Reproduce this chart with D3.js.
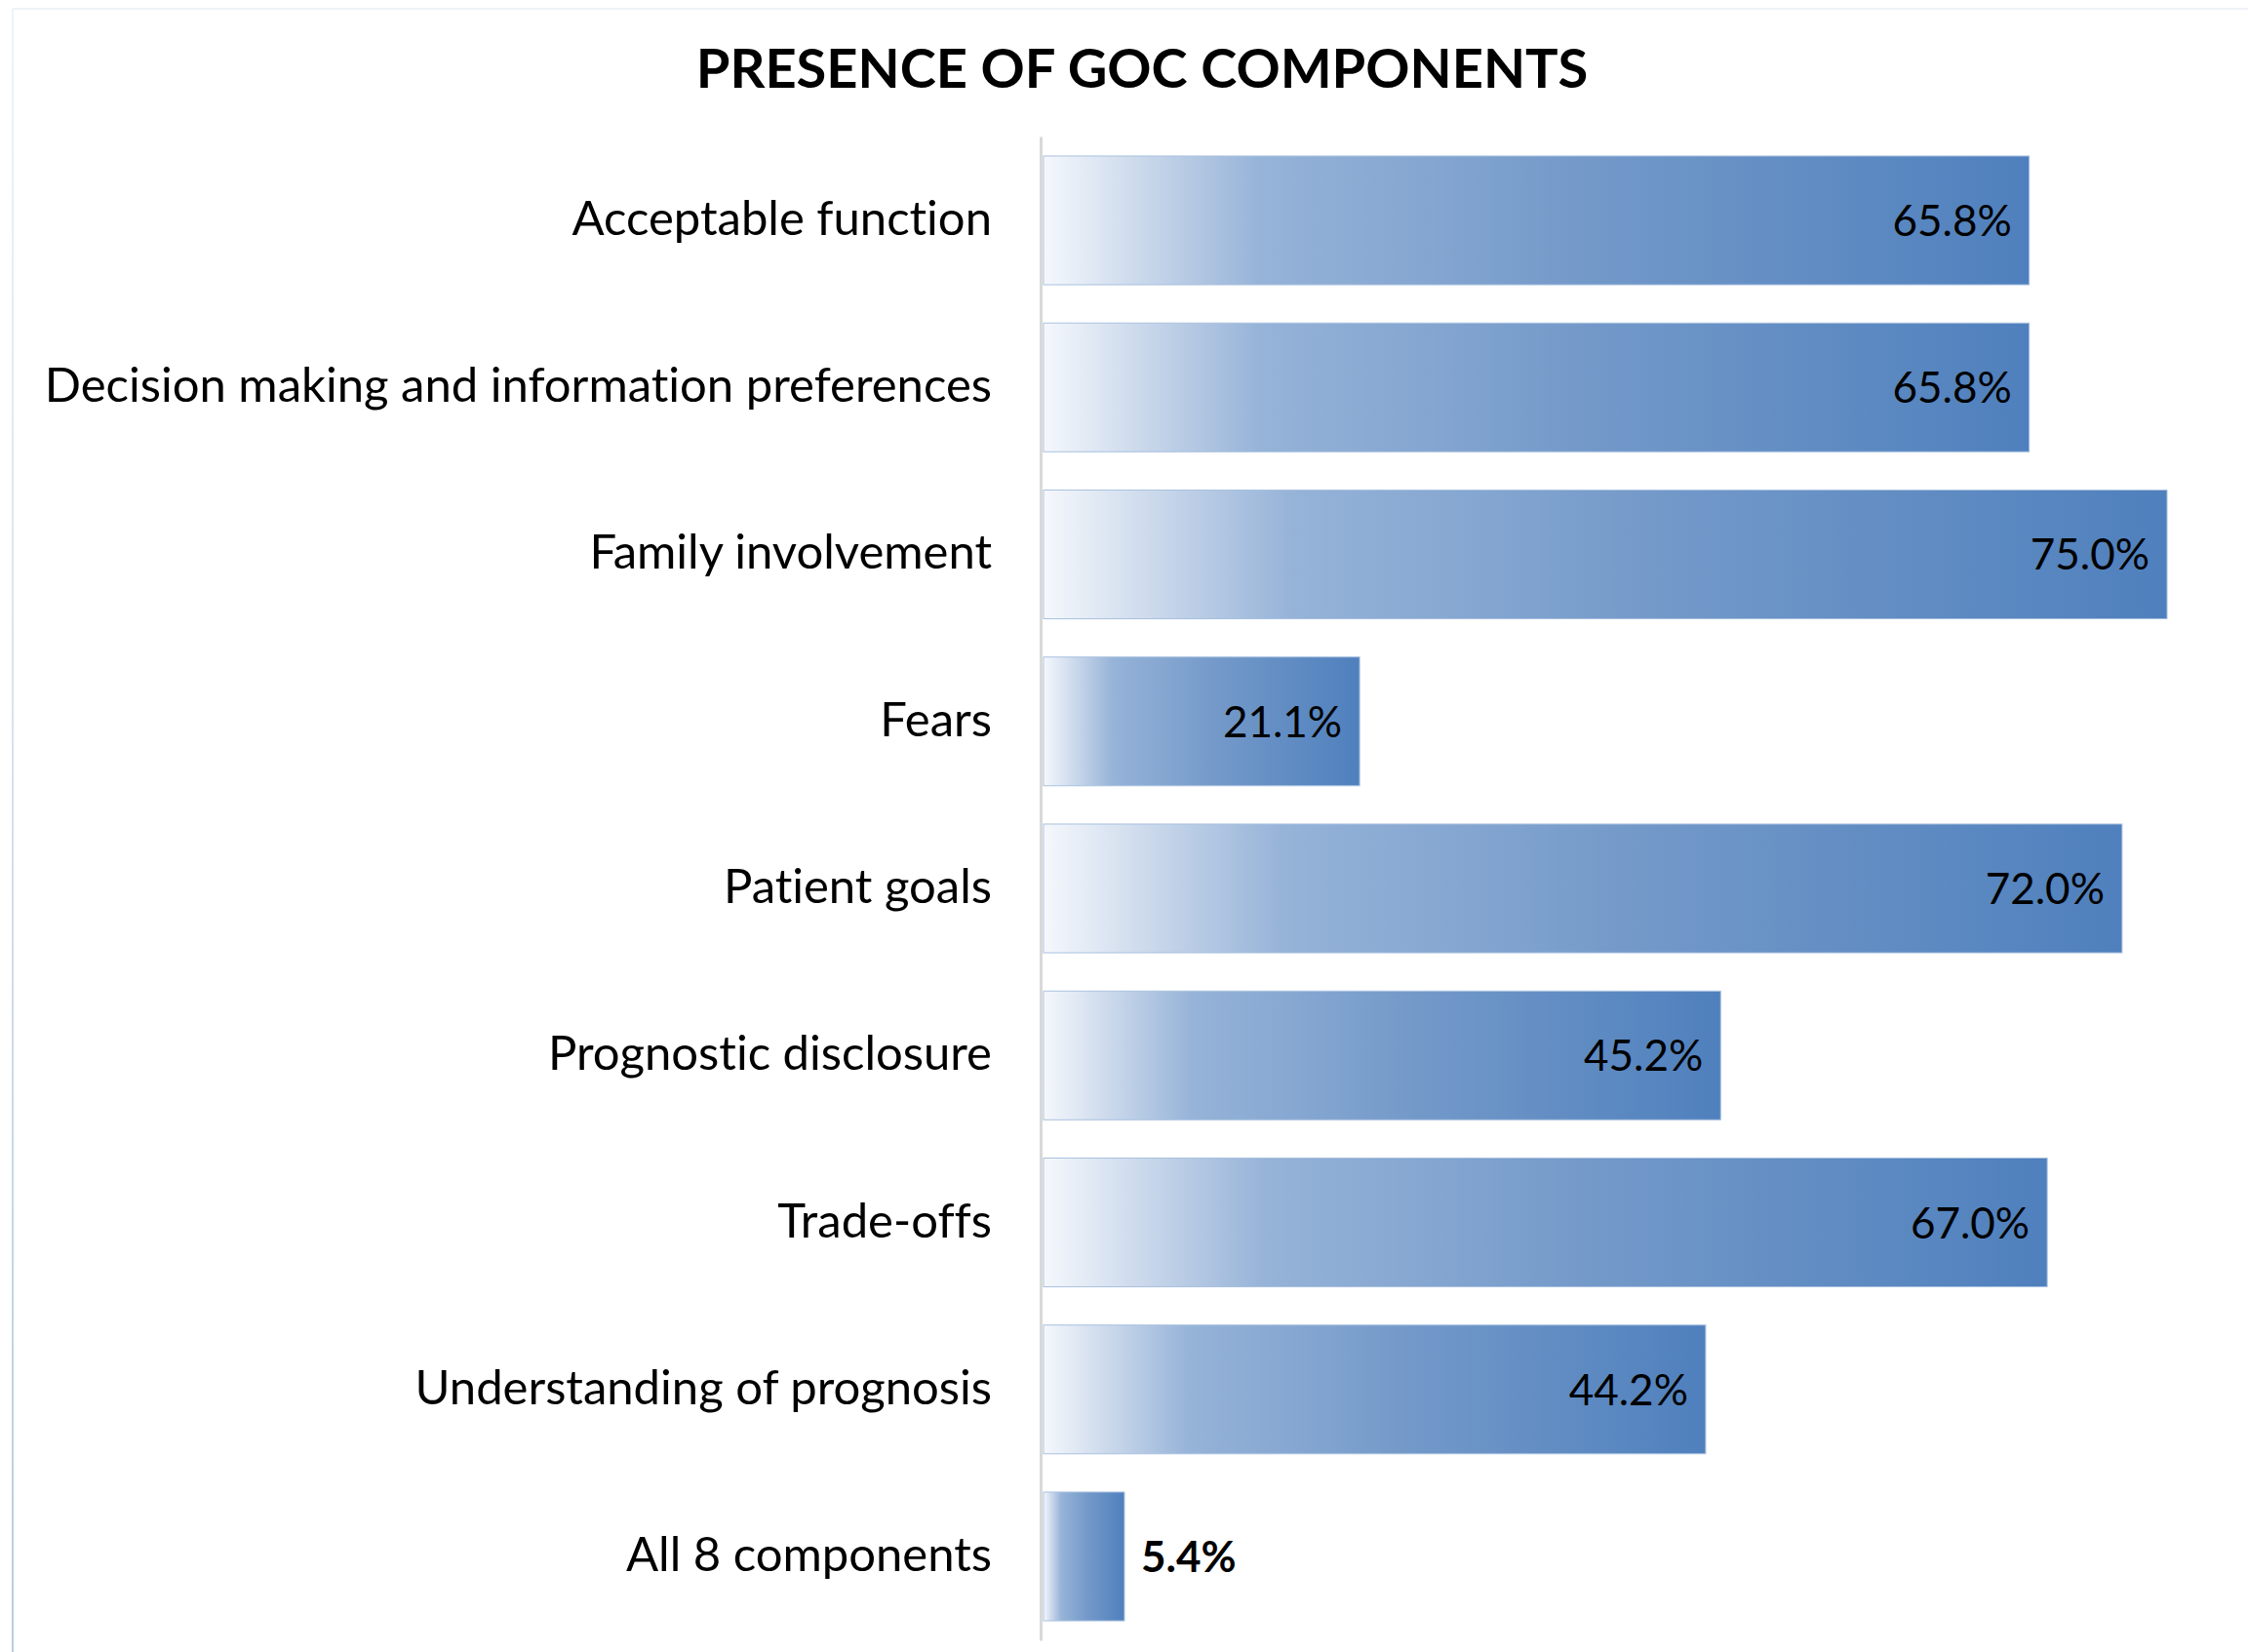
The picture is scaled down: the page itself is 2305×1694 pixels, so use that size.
<!DOCTYPE html>
<html>
<head>
<meta charset="utf-8">
<script src="https://cdn.jsdelivr.net/npm/d3@7"></script>
<style>
	html, body { margin: 0; padding: 0; background: #fff; }
	svg { display: block; }
	text { font-family: Lato, "Open Sans", sans-serif; fill: #000; font-variant-ligatures: none; }
</style>
</head>
<body>
<div id="svg-container"></div>
<script>
/*global d3*/

var categories = [
	'Acceptable function',
	'Decision making and information preferences',
	'Family involvement',
	'Fears',
	'Patient goals',
	'Prognostic disclosure',
	'Trade-offs',
	'Understanding of prognosis',
	'All 8 components'
];
var values = [65.8, 65.8, 75.0, 21.1, 72.0, 45.2, 67.0, 44.2, 5.4];
var summaryRow = 'All 8 components';
var chartTitle = 'PRESENCE OF GOC COMPONENTS';

var W = 2305, H = 1694;

function createView() {
	return d3.select('#svg-container').append('svg')
		.attr('width', W).attr('height', H);
}

function drawFrame(svg) {
	var defs = svg.append('defs');

	var edge = defs.append('linearGradient').attr('id', 'edge')
		.attr('x1', 0).attr('y1', 0).attr('x2', 0).attr('y2', 1);
	edge.append('stop').attr('offset', 0).attr('stop-color', '#eef3f9');
	edge.append('stop').attr('offset', 1).attr('stop-color', '#b8cce4');

	var bar = defs.append('linearGradient').attr('id', 'barFill')
		.attr('x1', 0).attr('y1', 0).attr('x2', 1).attr('y2', 0);
	[[0, '#f5f8fc'], [0.1, '#cad8eb'], [0.22, '#96b3d8'], [0.55, '#7399c9'], [1, '#4f80bd']]
		.forEach(function (s) {
			bar.append('stop').attr('offset', s[0]).attr('stop-color', s[1]);
		});

	// faint chart-area border, only top and left show
	svg.append('line').attr('x1', 13).attr('x2', W).attr('y1', 9).attr('y2', 9)
		.attr('stroke', '#eef3f9').attr('stroke-width', 2);
	svg.append('rect').attr('x', 12).attr('y', 9).attr('width', 2).attr('height', H - 9)
		.attr('fill', 'url(#edge)');

	svg.append('text')
		.attr('x', 1171).attr('y', 90)
		.attr('text-anchor', 'middle')
		.style('font-weight', 700)
		.style('font-size', '56px')
		.text(chartTitle);
}

function drawBars(svg) {
	var x = d3.scaleLinear().domain([0, 80]).range([1070, 1070 + 80 * 15.36]);
	var y = d3.scaleBand().domain(categories).range([140, 1682])
		.paddingInner(0.229).paddingOuter(0.1166);

	var rows = categories.map(function (c, i) {
		return { name: c, value: values[i] };
	});

	svg.selectAll('rect.bar')
		.data(rows)
		.enter().append('rect')
		.attr('class', 'bar')
		.attr('x', x(0))
		.attr('y', function (d) { return y(d.name); })
		.attr('width', function (d) { return x(d.value) - x(0); })
		.attr('height', y.bandwidth())
		.attr('fill', 'url(#barFill)')
		.attr('stroke', '#a9c1df')
		.attr('stroke-width', 1);

	svg.selectAll('text.val')
		.data(rows)
		.enter().append('text')
		.attr('class', 'val')
		.attr('x', function (d) {
			return d.name === summaryRow ? x(d.value) + 17 : x(d.value) - 18;
		})
		.attr('y', function (d) { return y(d.name) + y.bandwidth() / 2 + 16; })
		.attr('text-anchor', function (d) { return d.name === summaryRow ? 'start' : 'end'; })
		.style('font-size', '44px')
		.style('font-weight', function (d) { return d.name === summaryRow ? 700 : 400; })
		.text(function (d) { return d.value.toFixed(1) + '%'; });

	var axis = svg.append('g')
		.attr('transform', 'translate(1067,0)')
		.call(d3.axisLeft(y).tickSize(0).tickPadding(50));
	axis.select('.domain').attr('stroke', '#d9d9d9').attr('stroke-width', 3);
	axis.selectAll('.tick text')
		.attr('dy', null)
		.attr('y', 15)
		.style('font-family', 'Lato, "Open Sans", sans-serif')
		.style('font-size', '49px')
		.attr('fill', '#000');
}

var svg = createView();
drawFrame(svg);
drawBars(svg);
</script>
</body>
</html>
